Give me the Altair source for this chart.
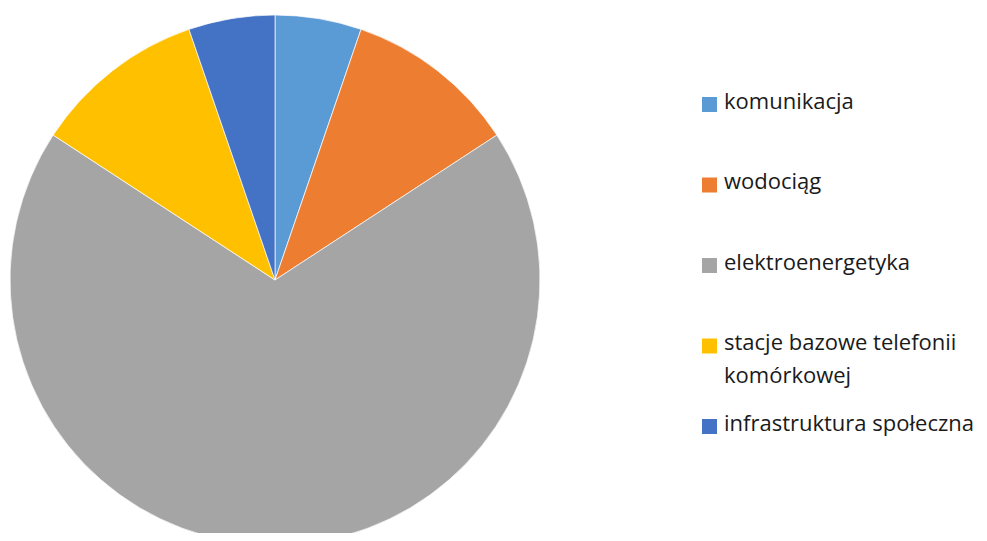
import altair as alt
import pandas as pd

categories = ["komunikacja", "wodociąg", "elektroenergetyka",
              "stacje bazowe telefonii komórkowej", "infrastruktura społeczna"]
legend_labels = ["komunikacja", "wodociąg", "elektroenergetyka",
                 "stacje bazowe telefonii\nkomórkowej", "infrastruktura społeczna"]
values = [1, 2, 13, 2, 1]
colors = ["#5B9BD5", "#ED7D31", "#A5A5A5", "#FFC000", "#4472C4"]

df = pd.DataFrame({"cat": categories, "label": legend_labels, "value": values,
                   "order": list(range(len(categories)))})

color_scale = alt.Scale(domain=categories, range=colors)

pie = alt.Chart(df).mark_arc(outerRadius=265, stroke="white", strokeWidth=0.7).encode(
    theta=alt.Theta("value:Q", stack=True),
    order=alt.Order("order:Q"),
    color=alt.Color("cat:N", scale=color_scale, legend=None),
    x=alt.value(267),
    y=alt.value(272),
)

ypos = alt.Y("cat:N", sort=categories,
             scale=alt.Scale(type="point", range=[96.5, 418.5], padding=0), axis=None)

sq = alt.Chart(df).mark_square(size=225, opacity=1).encode(
    x=alt.value(701.5),
    y=ypos,
    color=alt.Color("cat:N", scale=color_scale, legend=None),
)

txt = alt.Chart(df).mark_text(align="left", baseline="top", dy=-13,
                              font="Open Sans", fontSize=22, color="#1a1a1a",
                              lineBreak="\n", lineHeight=33).encode(
    x=alt.value(716),
    y=ypos,
    text="label:N",
)

chart = alt.layer(pie, sq, txt).properties(
    width=971, height=525, autosize="none", padding=0
).configure_view(stroke=None)

chart.save("out.html", embed_options={"renderer": "svg", "actions": False})
